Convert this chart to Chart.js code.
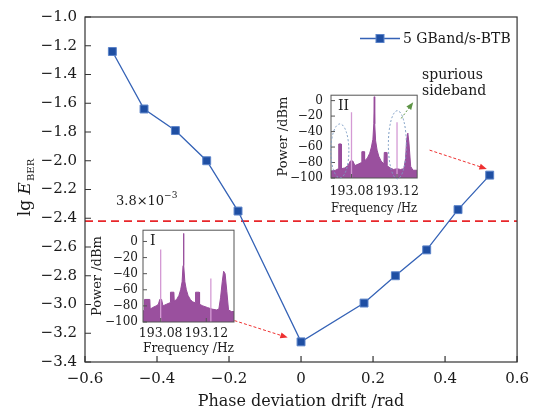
<!DOCTYPE html>
<html>
<head>
<meta charset="utf-8">
<script src="https://cdn.jsdelivr.net/npm/chart.js@4.4.1/dist/chart.umd.min.js"></script>
<style>
  html, body { margin: 0; padding: 0; background: #fff; }
  #wrap { position: relative; width: 537px; height: 415px; }
  canvas { position: absolute; }
</style>
</head>
<body>
<div id="wrap">
  <canvas id="mainChart" width="537" height="415" style="left:0;top:0"></canvas>
  <canvas id="insetI" width="155" height="140" style="left:88px;top:218px"></canvas>
  <canvas id="insetII" width="155" height="140" style="left:272px;top:80px"></canvas>
</div>
<script>
// datos del grafico principal
const phaseDrift = [-0.524, -0.436, -0.349, -0.262, -0.175, 0, 0.175, 0.262, 0.349, 0.436, 0.524];
const lgBer = [-1.24, -1.64, -1.79, -2.00, -2.35, -3.26, -2.99, -2.80, -2.62, -2.34, -2.10];
const berLimit = 3.8e-3;
const xTickValues = [-0.6, -0.4, -0.2, 0, 0.2, 0.4, 0.6];
const xTickLabels = ['\u22120.6', '\u22120.4', '\u22120.2', '0', '0.2', '0.4', '0.6'];
const yTickValues = [-1.0, -1.2, -1.4, -1.6, -1.8, -2.0, -2.2, -2.4, -2.6, -2.8, -3.0, -3.2, -3.4];
const yTickLabels = ['\u22121.0', '\u22121.2', '\u22121.4', '\u22121.6', '\u22121.8', '\u22122.0', '\u22122.2',
    '\u22122.4', '\u22122.6', '\u22122.8', '\u22123.0', '\u22123.2', '\u22123.4'];

// espectro I (deriva 0)
const specIFreq = [193.0645, 193.0655, 193.0658, 193.0705, 193.0708, 193.073, 193.076, 193.078, 193.0792, 193.0808,
    193.082, 193.085, 193.0883, 193.0886, 193.0916, 193.0919, 193.094, 193.096, 193.0975, 193.0988,
    193.0996, 193.1, 193.1004, 193.1012, 193.1025, 193.104, 193.106, 193.108, 193.1103, 193.1106,
    193.1138, 193.1141, 193.117, 193.121, 193.125, 193.129, 193.131, 193.1325, 193.134, 193.1352,
    193.1365, 193.138, 193.1395, 193.142, 193.1443];
const specIPower = [-86, -86, -72, -72, -84, -82, -80, -78, -72, -72,
    -80, -78, -76, -63, -63, -74, -72, -67, -60, -50,
    -30, 10, -30, -50, -60, -67, -72, -75, -76, -63,
    -63, -78, -80, -82, -84, -85, -84, -70, -50, -37,
    -40, -62, -85, -87, -87];
const spikeIFreq = [193.08, 193.124];
const spikeIPower = [-10, -46];

// espectro II (deriva 0.524 rad)
const specIIFreq = [193.062, 193.066, 193.0685, 193.0688, 193.0708, 193.0711, 193.074, 193.077, 193.079, 193.0812,
    193.083, 193.086, 193.0888, 193.0891, 193.0912, 193.0915, 193.094, 193.096, 193.0975, 193.0988,
    193.0996, 193.1, 193.1004, 193.1012, 193.1025, 193.104, 193.106, 193.1085, 193.1088, 193.1108,
    193.1111, 193.114, 193.117, 193.12, 193.123, 193.126, 193.1275, 193.1285, 193.1295, 193.1305,
    193.132, 193.134, 193.1377];
const specIIPower = [-91, -90, -88, -56, -56, -88, -87, -84, -78, -78,
    -84, -82, -80, -66, -66, -78, -74, -68, -60, -50,
    -30, 5, -30, -52, -64, -72, -78, -82, -67, -67,
    -84, -87, -89, -88, -89, -88, -75, -50, -42, -55,
    -85, -90, -90];
const spikeIIFreq = [193.08, 193.12];
const spikeIIPower = [-15, -28];

const insetXTicks = [193.08, 193.12];
const insetXLabels = ['193.08', '193.12'];
const insetYTicks = [0, -20, -40, -60, -80, -100];
const insetYLabels = ['0', '\u221220', '\u221240', '\u221260', '\u221280', '\u2212100'];

const serif = "'DejaVu Serif', 'Liberation Serif', serif";
Chart.defaults.font.family = serif;
Chart.defaults.color = '#1a1a1a';

function arrow(ctx, x1, y1, x2, y2, color, dash) {
    const ang = Math.atan2(y2 - y1, x2 - x1);
    const head = 8;
    ctx.save();
    ctx.strokeStyle = color;
    ctx.fillStyle = color;
    ctx.lineWidth = 1;
    ctx.setLineDash(dash);
    ctx.beginPath();
    ctx.moveTo(x1, y1);
    ctx.lineTo(x2 - head * 0.8 * Math.cos(ang), y2 - head * 0.8 * Math.sin(ang));
    ctx.stroke();
    ctx.setLineDash([]);
    ctx.beginPath();
    ctx.moveTo(x2, y2);
    ctx.lineTo(x2 - head * Math.cos(ang - 0.38), y2 - head * Math.sin(ang - 0.38));
    ctx.lineTo(x2 - head * Math.cos(ang + 0.38), y2 - head * Math.sin(ang + 0.38));
    ctx.closePath();
    ctx.fill();
    ctx.restore();
}

// marco, ticks hacia adentro y extras
const decor = {
    id: 'decor',
    afterDraw(chart, args, opts) {
        const { ctx, chartArea: a, scales } = chart;
        ctx.save();
        ctx.strokeStyle = opts.frameColor;
        ctx.lineWidth = opts.frameWidth;
        ctx.strokeRect(a.left, a.top, a.right - a.left, a.bottom - a.top);
        ctx.beginPath();
        scales.x.ticks.forEach(t => {
            const px = scales.x.getPixelForValue(t.value);
            ctx.moveTo(px, a.bottom);
            ctx.lineTo(px, a.bottom - opts.tickLen);
        });
        scales.y.ticks.forEach(t => {
            const py = scales.y.getPixelForValue(t.value);
            ctx.moveTo(a.left, py);
            ctx.lineTo(a.left + opts.tickLen, py);
        });
        ctx.stroke();
        ctx.restore();
        if (opts.extra) opts.extra(chart);
    }
};

const lineBlue = '#3462b6';
const markerBlue = '#1f4fa3';

new Chart(document.getElementById('mainChart'), {
    type: 'line',
    data: {
        datasets: [
            {
                label: '5 GBand/s-BTB',
                data: phaseDrift.map((x, i) => ({ x: x, y: lgBer[i] })),
                borderColor: lineBlue,
                borderWidth: 1.3,
                backgroundColor: markerBlue,
                pointStyle: 'rect',
                pointRadius: 5.6,
                pointBorderColor: '#5b83c9',
                pointBorderWidth: 1
            },
            {
                label: 'limit',
                data: [{ x: -0.6, y: Math.log10(berLimit) }, { x: 0.6, y: Math.log10(berLimit) }],
                borderColor: '#e8262a',
                borderWidth: 1.6,
                borderDash: [8, 5],
                pointRadius: 0
            }
        ]
    },
    options: {
        responsive: false,
        animation: false,
        devicePixelRatio: 1,
        layout: { padding: { top: 14, right: 17, left: 0, bottom: 0 } },
        plugins: {
            legend: { display: false },
            tooltip: { enabled: false },
            decor: {
                frameColor: '#333',
                frameWidth: 1.2,
                tickLen: 6,
                extra: chart => {
                    const { ctx, scales } = chart;
                    const sx = scales.x, sy = scales.y;
                    ctx.save();
                    // titulo eje y: lg E_BER
                    ctx.translate(30, 188);
                    ctx.rotate(-Math.PI / 2);
                    ctx.fillStyle = '#1a1a1a';
                    ctx.textBaseline = 'alphabetic';
                    ctx.font = '17px ' + serif;
                    const w1 = ctx.measureText('lg ').width;
                    ctx.font = 'italic 17px ' + serif;
                    const w2 = ctx.measureText('E').width;
                    ctx.font = '10px ' + serif;
                    const w3 = ctx.measureText('BER').width;
                    let x0 = -(w1 + w2 + w3) / 2;
                    ctx.font = '17px ' + serif;
                    ctx.fillText('lg ', x0, 0);
                    ctx.font = 'italic 17px ' + serif;
                    ctx.fillText('E', x0 + w1, 0);
                    ctx.font = '10px ' + serif;
                    ctx.fillText('BER', x0 + w1 + w2 + 1, 4);
                    ctx.restore();

                    // leyenda
                    ctx.save();
                    ctx.strokeStyle = lineBlue;
                    ctx.lineWidth = 1.3;
                    ctx.beginPath();
                    ctx.moveTo(360, 38.5);
                    ctx.lineTo(400, 38.5);
                    ctx.stroke();
                    ctx.fillStyle = markerBlue;
                    ctx.strokeStyle = '#5b83c9';
                    ctx.lineWidth = 1;
                    ctx.fillRect(376, 34.5, 8, 8);
                    ctx.strokeRect(376, 34.5, 8, 8);
                    ctx.fillStyle = '#1a1a1a';
                    ctx.font = '14px ' + serif;
                    ctx.textBaseline = 'middle';
                    ctx.fillText('5 GBand/s-BTB', 403, 39);

                    // textos
                    ctx.font = '13px ' + serif;
                    ctx.textBaseline = 'alphabetic';
                    ctx.fillText('3.8\u00d710', 116, 205);
                    const wt = ctx.measureText('3.8\u00d710').width;
                    ctx.font = '9px ' + serif;
                    ctx.fillText('\u22123', 116 + wt, 198);
                    ctx.font = '14px ' + serif;
                    ctx.fillText('spurious', 422, 79);
                    ctx.fillText('sideband', 422, 95);
                    ctx.restore();

                    // flechas rojas
                    arrow(ctx, sx.getPixelForValue(-0.185), sy.getPixelForValue(-3.112),
                        sx.getPixelForValue(-0.037), sy.getPixelForValue(-3.23), '#ee3030', [3, 2]);
                    arrow(ctx, sx.getPixelForValue(0.357), sy.getPixelForValue(-1.926),
                        sx.getPixelForValue(0.516), sy.getPixelForValue(-2.057), '#ee3030', [3, 2]);
                }
            }
        },
        scales: {
            x: {
                type: 'linear',
                min: -0.6,
                max: 0.6,
                afterFit: s => { s.height = 53; },
                afterBuildTicks: s => { s.ticks = xTickValues.map(v => ({ value: v })); },
                ticks: {
                    callback: (v, i) => xTickLabels[i],
                    font: { size: 15 },
                    padding: 8,
                    maxRotation: 0,
                    autoSkip: false
                },
                grid: { display: false, drawTicks: false },
                border: { display: false },
                title: {
                    display: true,
                    text: 'Phase deviation drift /rad',
                    font: { size: 16 },
                    padding: { top: 0, bottom: 4 }
                }
            },
            y: {
                min: -3.4,
                max: -1.0,
                afterFit: s => { s.width = 85; },
                afterBuildTicks: s => { s.ticks = yTickValues.map(v => ({ value: v })); },
                ticks: {
                    callback: (v, i) => yTickLabels[i],
                    font: { size: 15 },
                    padding: 8,
                    autoSkip: false
                },
                grid: { display: false, drawTicks: false },
                border: { display: false }
            }
        }
    },
    plugins: [decor]
});

// graficos insertados
function spikePoints(freqs, powers) {
    const pts = [];
    freqs.forEach((f, i) => {
        pts.push({ x: f, y: -100 }, { x: f, y: powers[i] }, { x: f, y: null });
    });
    return pts;
}

function makeInset(id, freqs, powers, spikeF, spikeP, xMin, xMax, yMax, box, roman, extra) {
    return new Chart(document.getElementById(id), {
        type: 'line',
        data: {
            datasets: [
                {
                    data: spikeF.length ? spikePoints(spikeF, spikeP) : [],
                    borderColor: '#d49ad4',
                    borderWidth: 1.3,
                    pointRadius: 0,
                    spanGaps: false
                },
                {
                    data: freqs.map((f, i) => ({ x: f, y: powers[i] })),
                    borderColor: '#974c9b',
                    backgroundColor: '#9a509e',
                    borderWidth: 1,
                    pointRadius: 0,
                    fill: 'start'
                }
            ]
        },
        options: {
            responsive: false,
            animation: false,
            devicePixelRatio: 1,
            layout: { padding: { top: box.top, right: box.right, left: 0, bottom: 0 } },
            plugins: {
                legend: { display: false },
                tooltip: { enabled: false },
                decor: {
                    frameColor: '#555',
                    frameWidth: 1,
                    tickLen: 4,
                    extra: chart => {
                        const { ctx, chartArea: a } = chart;
                        ctx.save();
                        ctx.fillStyle = '#1a1a1a';
                        ctx.font = '14px ' + serif;
                        ctx.fillText(roman, a.left + 7, a.top + 15);
                        ctx.restore();
                        if (extra) extra(chart);
                    }
                }
            },
            scales: {
                x: {
                    type: 'linear',
                    min: xMin,
                    max: xMax,
                    afterFit: s => { s.height = box.xh; },
                    afterBuildTicks: s => { s.ticks = insetXTicks.map(v => ({ value: v })); },
                    ticks: {
                        callback: (v, i) => insetXLabels[i],
                        font: { size: 12.5 },
                        padding: box.xpad,
                        maxRotation: 0,
                        autoSkip: false
                    },
                    grid: { display: false, drawTicks: false },
                    border: { display: false },
                    title: {
                        display: true,
                        text: 'Frequency /Hz',
                        font: { size: 13 },
                        padding: { top: 0, bottom: box.tpad }
                    }
                },
                y: {
                    min: -100,
                    max: yMax,
                    afterFit: s => { s.width = box.yw; },
                    afterBuildTicks: s => { s.ticks = insetYTicks.map(v => ({ value: v })); },
                    ticks: {
                        callback: (v, i) => insetYLabels[i],
                        font: { size: 12 },
                        padding: box.ypad,
                        autoSkip: false
                    },
                    grid: { display: false, drawTicks: false },
                    border: { display: false },
                    title: {
                        display: true,
                        text: 'Power /dBm',
                        font: { size: 13 },
                        padding: { top: box.ytpad, bottom: 0 }
                    }
                }
            }
        },
        plugins: [decor]
    });
}

makeInset('insetI', specIFreq, specIPower, spikeIFreq, spikeIPower, 193.0645, 193.1443, 14,
    { top: 7, right: 9, xh: 36, yw: 55, xpad: 4, tpad: 2, ypad: 5, ytpad: 2 }, 'I', null);

makeInset('insetII', specIIFreq, specIIPower, spikeIIFreq, spikeIIPower, 193.062, 193.1377, 7,
    { top: 6, right: 9, xh: 42, yw: 59, xpad: 6, tpad: 4, ypad: 8, ytpad: 4 }, 'II', chart => {
        const { ctx, scales } = chart;
        const sx = scales.x, sy = scales.y;
        ctx.save();
        ctx.strokeStyle = '#7d9dc4';
        ctx.lineWidth = 1;
        ctx.setLineDash([2, 2]);
        // elipses punteadas sobre las bandas laterales
        [[193.0698, -65, 9, 27], [193.1203, -57, 9, 34]].forEach(e => {
            ctx.beginPath();
            ctx.ellipse(sx.getPixelForValue(e[0]), sy.getPixelForValue(e[1]), e[2], e[3], 0, 0, Math.PI * 2);
            ctx.stroke();
        });
        ctx.restore();
        arrow(ctx, sx.getPixelForValue(193.1237), sy.getPixelForValue(-23),
            sx.getPixelForValue(193.1342), sy.getPixelForValue(-2), '#5d9445', [2, 2]);
    });
</script>
</body>
</html>
